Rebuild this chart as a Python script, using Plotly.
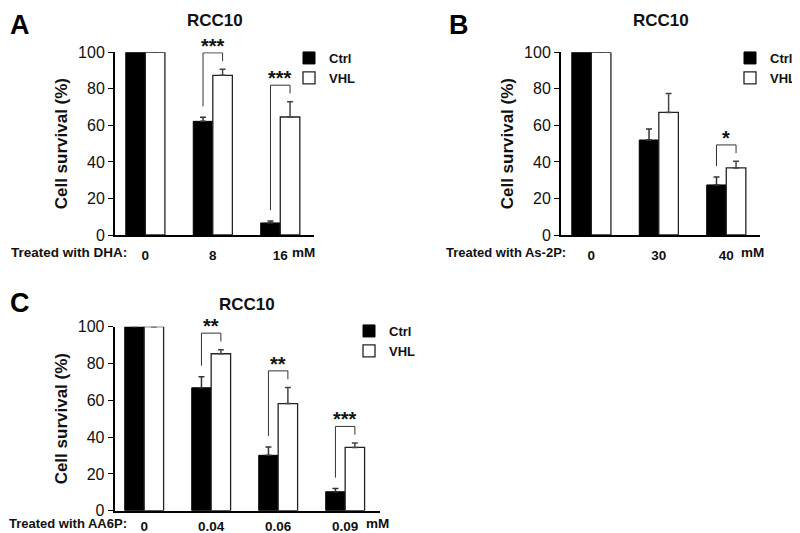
import plotly.graph_objects as go

# ---------------- data ----------------
a_doses = ["0", "8", "16"]
a_ctrl = [100, 62.2, 6.6]
a_ctrl_err = [0, 2.2, 1.0]
a_vhl = [100, 87.4, 64.6]
a_vhl_err = [0, 3.3, 8.4]
a_sig = ["", "***", "***"]

b_doses = ["0", "30", "40"]
b_ctrl = [100, 52.0, 27.4]
b_ctrl_err = [0, 6.0, 4.4]
b_vhl = [100, 67.1, 36.7]
b_vhl_err = [0, 10.3, 3.6]
b_sig = ["", "", "*"]

c_doses = ["0", "0.04", "0.06", "0.09"]
c_ctrl = [100, 66.8, 30.1, 10.3]
c_ctrl_err = [0, 6.0, 4.5, 1.7]
c_vhl = [100, 85.3, 58.2, 34.4]
c_vhl_err = [0, 2.2, 8.8, 2.4]
c_sig = ["", "**", "**", "***"]

y_ticks = [0, 20, 40, 60, 80, 100]
series_names = ["Ctrl", "VHL"]
panel_letters = ["A", "B", "C"]
panel_title = "RCC10"
treatments = ["Treated with DHA:", "Treated with As-2P:", "Treated with AA6P:"]
unit = "mM"
y_title = "Cell survival (%)"

# ---------------- style / geometry ----------------
FONT = "Liberation Sans, Arial, sans-serif"
OFFS = 8                      # page body margin of the html page
W, H = 800 - OFFS, 533 - OFFS
BARGAP = 0.42
OFF = (1 - BARGAP) / 4


def fx(px):
    return (px - OFFS) / W


def fy(py):
    return 1 - (py - OFFS) / H


panels = [
    dict(letter=panel_letters[0], doses=a_doses, ctrl=a_ctrl, ce=a_ctrl_err, vhl=a_vhl, ve=a_vhl_err,
         sig=a_sig, treat=treatments[0], treat_size=13.5, xd=[115, 314], yd=[235, 52.3], xr=[-0.45, 2.5],
         letter_pos=(8, 8), title_y=20.5, treat_right=129, mm_off=0.14, lbl_shift=18,
         leg=(329, 43), legname="legend"),
    dict(letter=panel_letters[1], doses=b_doses, ctrl=b_ctrl, ce=b_ctrl_err, vhl=b_vhl, ve=b_vhl_err,
         sig=b_sig, treat=treatments[1], treat_size=13, xd=[561, 760], yd=[235, 52.3], xr=[-0.45, 2.5],
         letter_pos=(447, 8), title_y=20.5, treat_right=568, mm_off=0.19, lbl_shift=18,
         leg=(770, 43), legname="legend2"),
    dict(letter=panel_letters[2], doses=c_doses, ctrl=c_ctrl, ce=c_ctrl_err, vhl=c_vhl, ve=c_vhl_err,
         sig=c_sig, treat=treatments[2], treat_size=13, xd=[114.7, 380], yd=[510.7, 326.7], xr=[-0.44, 3.52],
         letter_pos=(8, 286), title_y=304, treat_right=129, mm_off=0.28, lbl_shift=13,
         leg=(389, 316), legname="legend3"),
]

fig = go.Figure()
layout = dict(
    width=W, height=H, margin=dict(l=0, r=0, t=0, b=0, autoexpand=False),
    paper_bgcolor="white", plot_bgcolor="white",
    barmode="group", bargap=BARGAP, bargroupgap=0,
    font=dict(family=FONT, color="#111"),
    annotations=[], shapes=[],
)

for k, p in enumerate(panels):
    sfx = "" if k == 0 else str(k + 1)
    xa, ya = "x" + sfx, "y" + sfx
    n = len(p["doses"])
    xs = list(range(n))
    fig.add_trace(go.Bar(
        x=xs, y=p["ctrl"], name=series_names[0], xaxis=xa, yaxis=ya, legend=p["legname"],
        marker=dict(color="black", line=dict(color="black", width=1)),
        error_y=dict(type="data", array=p["ce"], arrayminus=[0] * n, symmetric=False,
                     color="#333", thickness=1.5, width=3),
    ))
    fig.add_trace(go.Bar(
        x=xs, y=p["vhl"], name=series_names[1], xaxis=xa, yaxis=ya, legend=p["legname"],
        marker=dict(color="white", line=dict(color="#222", width=1.3)),
        error_y=dict(type="data", array=p["ve"], arrayminus=[0] * n, symmetric=False,
                     color="#444", thickness=1.5, width=3),
    ))

    layout["xaxis" + sfx] = dict(
        domain=[fx(p["xd"][0]), fx(p["xd"][1])], anchor=ya, range=p["xr"],
        tickvals=xs, ticktext=p["doses"], showline=True, linewidth=2, linecolor="black",
        ticks="", showgrid=False, zeroline=False, fixedrange=True, automargin=False,
        tickfont=dict(size=13.5, weight="bold", color="#111"), ticklabelstandoff=p["lbl_shift"] - 11,
    )
    layout["yaxis" + sfx] = dict(
        domain=[fy(p["yd"][0]), fy(p["yd"][1])], anchor=xa, range=[0, 100],
        tickvals=y_ticks, ticks="outside", ticklen=5, tickwidth=1, tickcolor="black",
        showline=True, linewidth=2, linecolor="black", showgrid=False, zeroline=False,
        automargin=False, tickfont=dict(size=16, color="#111"),
        title=dict(text=y_title, font=dict(size=17, weight="bold", color="#111"), standoff=6),
    )
    # legend: text starts 40 px right of the legend's left edge
    layout[p["legname"]] = dict(
        x=fx(p["leg"][0] - 40), y=fy(p["leg"][1]), xanchor="left", yanchor="top",
        font=dict(size=13, weight="bold", color="#111"), bgcolor="rgba(0,0,0,0)",
        itemwidth=30, tracegroupgap=0,
    )

    # significance brackets
    for i, s in enumerate(p["sig"]):
        if not s:
            continue
        ctop = p["ctrl"][i] + p["ce"][i]
        vtop = p["vhl"][i] + p["ve"][i]
        xl, xr = i - OFF, i + OFF
        yt = max(ctop, vtop) + 9
        for (x0, y0, x1, y1) in [(xl, ctop + 6, xl, yt), (xl, yt, xr, yt), (xr, yt, xr, vtop + 4.5)]:
            layout["shapes"].append(dict(type="line", xref=xa, yref=ya, x0=x0, y0=y0, x1=x1, y1=y1,
                                         line=dict(color="#333", width=1)))
        layout["annotations"].append(dict(
            x=i, y=yt, xref=xa, yref=ya, text=s, showarrow=False, yanchor="bottom", yshift=-6,
            font=dict(size=20, weight="bold", color="#111")))

    # title, panel letter, treatment label, unit
    layout["annotations"].append(dict(
        x=0.5, y=1, xref=xa + " domain", yref=ya + " domain", text=panel_title, showarrow=False,
        yanchor="middle", yshift=p["yd"][1] - p["title_y"],
        font=dict(size=17, weight="bold", color="#111")))
    layout["annotations"].append(dict(
        x=fx(p["letter_pos"][0]), y=fy(p["letter_pos"][1]), xref="paper", yref="paper",
        text=p["letter"], showarrow=False, xanchor="left", yanchor="top",
        font=dict(size=27, weight="bold", color="black")))
    layout["annotations"].append(dict(
        x=fx(p["treat_right"]), y=0, xref="paper", yref=ya + " domain", text=p["treat"],
        showarrow=False, xanchor="right", yanchor="middle", yshift=-p["lbl_shift"],
        font=dict(size=p["treat_size"], weight="bold", color="#111")))
    layout["annotations"].append(dict(
        x=n - 1 + p["mm_off"], y=0, xref=xa, yref=ya + " domain", text=unit,
        showarrow=False, xanchor="left", yanchor="middle", yshift=-p["lbl_shift"],
        font=dict(size=13.5, weight="bold", color="#111")))

fig.update_layout(**layout)
fig.write_html("out.html")
